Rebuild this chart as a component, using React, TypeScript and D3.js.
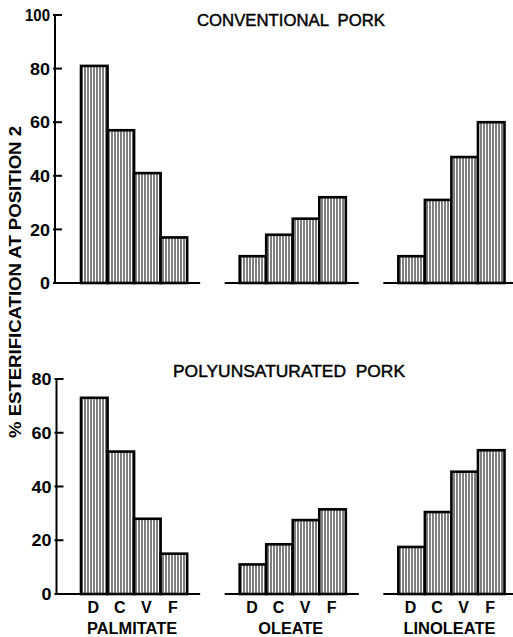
import React from "react";
import * as d3 from "d3";

const groups = ["PALMITATE", "OLEATE", "LINOLEATE"];
const diets = ["D", "C", "V", "F"];
const conventional = [
  [81, 57, 41, 17],
  [10, 18, 24, 32],
  [10, 31, 47, 60],
];
const polyunsaturated = [
  [73, 53, 28, 15],
  [11, 18.5, 27.5, 31.5],
  [17.5, 30.5, 45.5, 53.5],
];
const topTicks = [0, 20, 40, 60, 80, 100];
const bottomTicks = [0, 20, 40, 60, 80];
const yLabel = "% ESTERIFICATION AT POSITION 2";
const titles = ["CONVENTIONAL  PORK", "POLYUNSATURATED  PORK"];

const W = 513;
const H = 637;
const FONT = "'Liberation Sans', Arial, sans-serif";

const xGroup = d3.scaleBand<string>().domain(groups).range([81, 504.5]).paddingInner(0.331).paddingOuter(0);
const xBar = d3.scaleBand<string>().domain(diets).range([0, xGroup.bandwidth()]).padding(0);

type PanelProps = {
  data: number[][];
  ticks: number[];
  y: d3.ScaleLinear<number, number>;
  axisX: number;
  title: string;
  titleY: number;
  titleX: number;
  titleLen: number;
  showLabels: boolean;
};

function Panel({ data, ticks, y, axisX, title, titleY, titleX, titleLen, showLabels }: PanelProps) {
  const y0 = y(0);
  const yTop = y(ticks[ticks.length - 1]);
  return (
    <g>
      <text x={titleX} y={titleY} textAnchor="middle" fontFamily={FONT} fontSize={17} fontWeight="normal"
        stroke="#000" strokeWidth={0.45} style={{ whiteSpace: "pre" }}
        textLength={titleLen} lengthAdjust="spacingAndGlyphs" fill="#000">{title}</text>
      <line x1={axisX} x2={axisX} y1={yTop} y2={y0} stroke="#000" strokeWidth={2} />
      {ticks.map((t) => (
        <g key={t}>
          <line x1={axisX - 2} x2={axisX + 7} y1={y(t)} y2={y(t)} stroke="#000" strokeWidth={2} />
          <text x={axisX - 5} y={y(t)} dy="0.36em" textAnchor="end" fontFamily={FONT} fontWeight="bold"
            fontSize={17} textLength={t >= 100 ? 25 : t > 0 ? 20 : 10} lengthAdjust="spacingAndGlyphs" fill="#000">{t}</text>
        </g>
      ))}
      {groups.map((g, gi) => {
        const gx = xGroup(g)!;
        const left = gi === 0 ? axisX : gx - 15;
        const right = gx + xGroup.bandwidth() + (gi === 2 ? 9 : 13);
        return (
          <g key={g}>
            <line x1={left} x2={right} y1={y0} y2={y0} stroke="#000" strokeWidth={2} />
            {diets.map((dk, di) => {
              const bx = gx + xBar(dk)!;
              const v = data[gi][di];
              return (
                <rect key={dk} x={bx} y={y(v)} width={xBar.bandwidth()} height={y0 - y(v)}
                  fill="url(#hatch)" stroke="#000" strokeWidth={2.6} />
              );
            })}
            {showLabels && diets.map((dk) => (
              <text key={dk} x={gx + xBar(dk)! + xBar.bandwidth() / 2 - 1} y={613} textAnchor="middle"
                fontFamily={FONT} fontWeight="bold" fontSize={16} fill="#000">{dk}</text>
            ))}
            {showLabels && (
              <text x={gx + xGroup.bandwidth() / 2 - 2} y={634} textAnchor="middle" fontFamily={FONT}
                fontWeight="bold" fontSize={16}
                textLength={g === "OLEATE" ? 65 : g === "PALMITATE" ? 90 : 92}
                lengthAdjust="spacingAndGlyphs" fill="#000">{g}</text>
            )}
          </g>
        );
      })}
    </g>
  );
}

export default function App() {
  const yTopPanel = d3.scaleLinear().domain([0, 100]).range([283, 15]);
  const yBottomPanel = d3.scaleLinear().domain([0, 80]).range([594, 379]);
  return (
    <svg width={W} height={H} style={{ position: "absolute", left: 0, top: 0, background: "#fff" }}>
      <defs>
        <pattern id="hatch" patternUnits="userSpaceOnUse" width={3} height={10}>
          <rect x={0} y={0} width={3} height={10} fill="#fff" />
          <line x1={1} x2={1} y1={0} y2={10} stroke="#000" strokeWidth={1} />
        </pattern>
      </defs>
      <rect x={0} y={0} width={W} height={H} fill="#fff" />
      <Panel data={conventional} ticks={topTicks} y={yTopPanel} axisX={55} title={titles[0]}
        titleY={26} titleX={291} titleLen={188} showLabels={false} />
      <Panel data={polyunsaturated} ticks={bottomTicks} y={yBottomPanel} axisX={56.5} title={titles[1]}
        titleY={377} titleX={289} titleLen={232} showLabels={true} />
      <text transform="translate(21,282) rotate(-90)" textAnchor="middle" fontFamily={FONT} fontWeight="bold"
        fontSize={16} textLength={312} lengthAdjust="spacingAndGlyphs" fill="#000">{yLabel}</text>
    </svg>
  );
}
